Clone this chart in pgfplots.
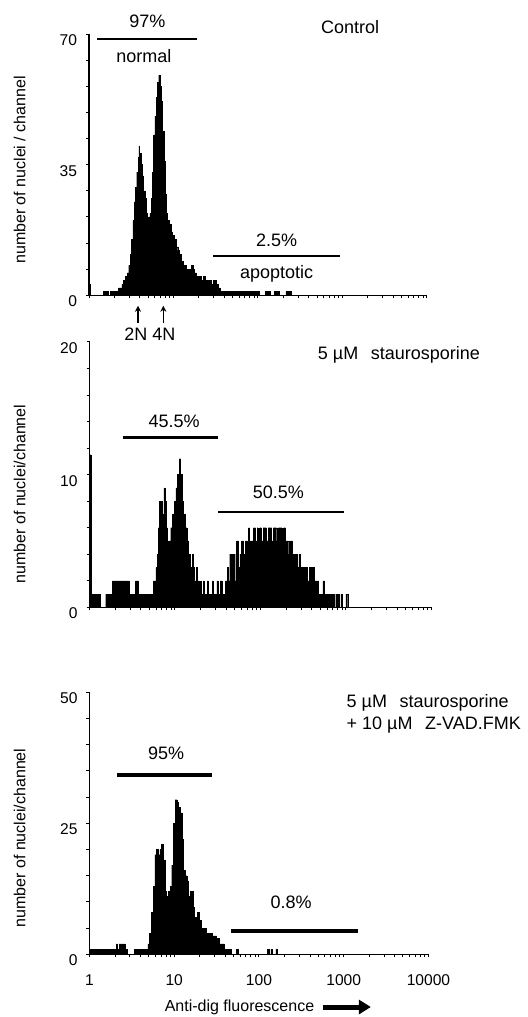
\documentclass[border=0pt]{standalone}
\usepackage{pgfplots}
\pgfplotsset{compat=1.18}
\usepackage{fontspec}
\setmainfont{Liberation Sans}
\usetikzlibrary{arrows.meta}

\tikzset{
  anno/.style={font=\fontsize{9}{11}\selectfont, inner sep=0pt},
}
\pgfplotsset{
  panel/.style={
    scale only axis,
    xmin=0, xmax=4,
    ymin=0,
    axis x line*=bottom, axis y line*=left,
    tick align=outside,
    major tick length=1.5pt, minor tick length=1.5pt,
    every tick/.style={black, line width=0.5pt},
    axis line style={line width=0.6pt},
    xtick={0,1,2,3,4},
    minor xtick={0.301,0.477,0.602,0.699,0.778,0.845,0.903,0.954,1.301,1.477,1.602,1.699,1.778,1.845,1.903,1.954,2.301,2.477,2.602,2.699,2.778,2.845,2.903,2.954,3.301,3.477,3.602,3.699,3.778,3.845,3.903,3.954},
    clip=false,
    tick label style={font=\fontsize{7.8}{9}\selectfont},
    /pgf/number format/assume math mode=true,
    yticklabel style={yshift=-3pt, xshift=-1pt},
    xticklabel style={yshift=-5pt},
    ylabel style={font=\fontsize{8}{10}\selectfont, anchor=center},
  },
  hist/.style={const plot, fill=black, draw=black, line width=0.2pt},
}

\begin{document}
\begin{tikzpicture}
\path[use as bounding box] (0,0) rectangle (264pt,508.5pt);

% ---------------- Panel 1: Control ----------------
\begin{axis}[panel,
  at={(44.5pt,360.85pt)}, anchor=south west,
  width=169pt, height=130.65pt,
  ymax=70, ytick={0,35,70}, minor ytick={7,14,21,28,42,49,56,63},
  xticklabels={},
  ylabel={number of nuclei / channel},
  ylabel style={at={(axis description cs:-0.205,0.48)}},
]
\addplot[hist] coordinates {
(0.00,3) (0.02,0) (0.17,1) (0.21,1) (0.23,0) (0.25,1) (0.27,0) (0.29,1) (0.33,1)
(0.35,2) (0.37,2) (0.39,3) (0.41,4) (0.43,5) (0.45,6) (0.47,8) (0.49,11) (0.505,15)
(0.52,20) (0.535,25) (0.55,29) (0.565,33) (0.58,37) (0.59,40) (0.60,38) (0.615,35)
(0.63,32) (0.645,28) (0.66,26) (0.675,22) (0.69,20) (0.705,21) (0.72,22) (0.735,26)
(0.75,33) (0.765,43) (0.78,48) (0.795,53) (0.81,57) (0.825,59) (0.84,56) (0.855,52)
(0.87,44) (0.885,36) (0.90,27) (0.915,22) (0.93,20) (0.95,19) (0.97,17) (0.99,16)
(1.01,15) (1.03,13) (1.05,12) (1.07,11) (1.09,9) (1.11,8) (1.13,8) (1.15,7) (1.17,6)
(1.19,7) (1.21,8) (1.23,7) (1.25,6) (1.27,5) (1.29,5) (1.31,5) (1.33,4) (1.35,5)
(1.37,4) (1.39,4) (1.41,4) (1.43,4) (1.45,3) (1.47,4) (1.49,4) (1.51,3) (1.53,2)
(1.55,1) (2.01,0) (2.09,1) (2.15,0) (2.19,1) (2.25,0) (2.33,1) (2.39,0) (4.0,0)
} \closedcycle;
\node[anno] at (axis cs:0.69,73.5) {97\%};
\draw[line width=1pt] (axis cs:0.095,68.7) -- (axis cs:1.28,68.7);
\node[anno] at (axis cs:0.65,64.2) {normal};
\node[anno] at (axis cs:2.22,14.8) {2.5\%};
\draw[line width=1pt] (axis cs:1.468,10.6) -- (axis cs:2.971,10.6);
\node[anno] at (axis cs:2.22,5.7) {apoptotic};
\node[anno] at (axis cs:3.09,71.9) {Control};
\draw[-{Stealth[length=3pt,width=3pt]}, line width=0.6pt] (axis cs:0.58,-7.4) -- (axis cs:0.58,-2.8);
\draw[-{Stealth[length=3pt,width=3pt]}, line width=0.6pt] (axis cs:0.88,-7.4) -- (axis cs:0.88,-2.8);
\node[anno] at (axis cs:0.72,-10.5) {2N 4N};
\end{axis}

% ---------------- Panel 2: staurosporine ----------------
\begin{axis}[panel,
  at={(44.75pt,204.85pt)}, anchor=south west,
  width=171pt, height=132.65pt,
  ymax=20, ytick={0,10,20}, minor ytick={2,4,6,8,12,14,16,18},
  xticklabels={},
  ylabel={number of nuclei/channel},
  ylabel style={at={(axis description cs:-0.204,0.427)}},
]
\addplot[hist] coordinates {
(0.000,11.5) (0.015,1) (0.13,0) (0.19,1) (0.27,2) (0.46,1) (0.54,2) (0.57,1)
(0.75,2) (0.775,3) (0.79,4) (0.805,6) (0.82,8) (0.83,7) (0.84,8) (0.85,6) (0.86,7)
(0.87,9) (0.88,7) (0.89,8) (0.90,6) (0.91,5) (0.92,4) (0.93,5) (0.95,6) (0.97,7)
(0.99,8) (1.01,9) (1.03,10) (1.05,11.2) (1.065,10) (1.08,8) (1.10,7) (1.12,6)
(1.14,5) (1.16,4) (1.18,3) (1.20,4) (1.21,3) (1.23,2) (1.25,3) (1.26,2) (1.28,1)
(1.30,2) (1.31,1) (1.33,2) (1.34,1) (1.38,2) (1.39,1) (1.44,2) (1.45,1) (1.49,2)
(1.50,1) (1.53,2) (1.55,1) (1.59,2) (1.61,3) (1.62,2) (1.64,4) (1.66,3) (1.67,4)
(1.69,2) (1.71,4) (1.72,5) (1.74,3) (1.76,4) (1.78,5) (1.80,4) (1.82,5) (1.84,4)
(1.86,6) (1.87,5) (1.89,4) (1.90,5) (1.92,6) (1.94,5) (1.96,6) (1.97,5) (1.99,6)
(2.01,5) (2.03,6) (2.05,6) (2.07,5) (2.09,6) (2.11,6) (2.13,5) (2.15,6) (2.17,6)
(2.19,5) (2.21,6) (2.23,6) (2.25,5) (2.27,6) (2.29,5) (2.31,5) (2.33,4) (2.35,5)
(2.37,4) (2.40,4) (2.43,3) (2.45,4) (2.47,3) (2.50,3) (2.53,3) (2.55,2) (2.57,3)
(2.59,2) (2.61,3) (2.63,2) (2.66,2) (2.68,1) (2.73,2) (2.75,1) (2.86,0) (2.88,1)
(2.92,0) (2.94,1) (2.96,0) (3.00,1) (3.02,0) (4.0,0)
} \closedcycle;
\node[anno] at (axis cs:3.62,19.0) {5 µM\hspace{0.7em}staurosporine};
\node[anno] at (axis cs:0.99,14.0) {45.5\%};
\draw[line width=1.2pt] (axis cs:0.396,12.8) -- (axis cs:1.507,12.8);
\node[anno] at (axis cs:2.21,8.7) {50.5\%};
\draw[line width=1.2pt] (axis cs:1.503,7.2) -- (axis cs:2.972,7.2);
\end{axis}

% ---------------- Panel 3: staurosporine + Z-VAD ----------------
\begin{axis}[panel,
  at={(44.75pt,31.35pt)}, anchor=south west,
  width=169.5pt, height=131pt,
  ymax=50, ytick={0,25,50}, minor ytick={5,10,15,20,30,35,40,45},
  xticklabels={1,10,100,1000,10000},
  ylabel={number of nuclei/channel},
  ylabel style={at={(axis description cs:-0.206,0.444)}},
]
\addplot[hist] coordinates {
(0.00,1) (0.06,1) (0.10,1) (0.315,2) (0.33,1) (0.35,2) (0.37,2) (0.39,1) (0.40,2)
(0.42,1) (0.45,0) (0.53,1) (0.69,2) (0.71,4) (0.73,8) (0.75,13) (0.77,19) (0.79,20)
(0.81,19) (0.83,20) (0.85,21) (0.87,18) (0.89,12) (0.91,11) (0.93,12) (0.95,13)
(0.97,17) (0.99,25) (1.01,29.5) (1.03,29) (1.05,28) (1.07,27) (1.09,22) (1.11,16)
(1.13,15) (1.15,14) (1.17,11) (1.19,12) (1.22,9) (1.24,7) (1.27,8) (1.29,6.5)
(1.32,5) (1.38,4) (1.45,3.5) (1.50,3) (1.53,2) (1.59,1) (1.67,0) (1.73,1) (1.75,0)
(2.10,1) (2.12,0) (2.14,1) (2.16,0) (2.20,1) (2.22,0) (4.0,0)
} \closedcycle;
\node[anno, anchor=west] at (axis cs:3.03,47.9) {5 µM\hspace{0.7em}staurosporine};
\node[anno, anchor=west] at (axis cs:3.03,43.8) {+ 10 µM\hspace{0.7em}Z-VAD.FMK};
\node[anno] at (axis cs:0.905,38.4) {95\%};
\draw[line width=1.8pt] (axis cs:0.322,34.2) -- (axis cs:1.44,34.2);
\node[anno] at (axis cs:2.38,10.0) {0.8\%};
\draw[line width=1.8pt] (axis cs:1.672,4.45) -- (axis cs:3.166,4.45);
\node[font=\fontsize{8}{10}\selectfont, inner sep=0pt] at (axis cs:1.77,-10.06) {Anti-dig fluorescence};
\draw[-{Triangle[length=6pt,width=7pt]}, line width=2.5pt] (axis cs:2.75,-10.06) -- (axis cs:3.32,-10.06);
\end{axis}
\end{tikzpicture}
\end{document}
